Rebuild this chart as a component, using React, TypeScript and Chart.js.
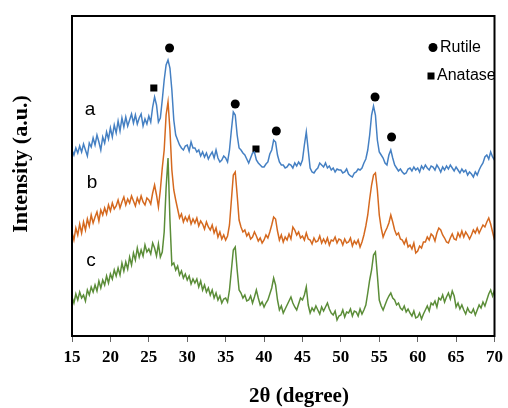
import { useEffect, useRef } from "react";
import { Chart, registerables } from "chart.js";

Chart.register(...registerables);

// 2θ sampling of the patterns (degrees)
const START_ANGLE = 15;
const ANGLE_STEP = 0.25;

// sample a (top, blue)
const seriesA = [
  186, 181, 188, 183, 190, 184, 192, 186, 180, 193, 189, 198, 191, 201, 194, 186,
  199, 193, 204, 197, 208, 199, 211, 203, 215, 205, 218, 209, 219, 210, 216, 222,
  213, 221, 212, 218, 222, 210, 217, 212, 220, 214, 229, 239, 231, 214, 218, 236,
  256, 271, 276, 268, 246, 216, 201, 196, 191, 188, 186, 190, 191, 185, 194, 188,
  188, 184, 186, 180, 184, 179, 183, 177, 181, 184, 178, 186, 178, 174, 176, 180,
  178, 174, 186, 206, 224, 221, 201, 188, 186, 183, 181, 177, 173, 178, 183, 184,
  176, 173, 171, 169, 169, 172, 174, 182, 186, 196, 194, 181, 174, 171, 171, 168,
  169, 172, 171, 168, 173, 170, 174, 171, 176, 191, 204, 186, 168, 164, 163, 166,
  168, 173, 171, 169, 173, 168, 170, 166, 168, 164, 167, 166, 166, 163, 164, 167,
  162, 160, 159, 163, 164, 167, 166, 168, 173, 177, 186, 201, 221, 230, 221, 196,
  184, 181, 178, 173, 171, 181, 186, 178, 171, 168, 165, 167, 164, 162, 163, 167,
  168, 165, 169, 166, 168, 164, 170, 167, 171, 168, 166, 170, 169, 166, 171, 168,
  164, 169, 166, 170, 167, 171, 168, 165, 169, 166, 163, 167, 164, 166, 161, 164,
  162, 159, 164, 161, 166, 170, 173, 179, 181, 177, 184, 179, 176,
];

// sample b (middle, orange)
const seriesB = [
  104, 96, 108, 101, 112, 103, 114, 106, 117, 110, 121, 113, 119, 124, 115, 126,
  121, 128, 122, 131, 125, 133, 127, 130, 136, 128, 134, 139, 131, 137, 133, 140,
  135, 130, 138, 133, 140, 134, 131, 138, 136, 132, 143, 151, 141, 129, 146, 168,
  186, 221, 234, 206, 166, 146, 136, 127, 118, 122, 114, 119, 115, 120, 112, 117,
  113, 118, 110, 115, 112, 107, 114, 109, 106, 111, 103, 108, 99, 104, 97, 101,
  96, 100, 111, 136, 161, 164, 141, 116, 109, 104, 106, 100, 103, 97, 99, 104,
  100, 95, 98, 93, 96, 101, 98, 104, 111, 119, 117, 105, 96, 101, 94, 99,
  96, 102, 97, 109, 106, 101, 104, 98, 100, 96, 103, 97, 96, 92, 98, 94,
  95, 100, 93, 97, 93, 98, 91, 96, 95, 99, 93, 97, 96, 91, 97, 93,
  94, 98, 90, 95, 92, 96, 89, 94, 101, 110, 121, 137, 151, 161, 163, 146,
  121, 108, 99, 104, 108, 113, 121, 114, 106, 101, 103, 97, 96, 92, 97, 89,
  91, 87, 93, 83, 85, 90, 88, 94, 94, 99, 96, 102, 100, 95, 103, 108,
  106, 101, 98, 94, 93, 98, 102, 97, 96, 103, 99, 105, 99, 104, 101, 97,
  101, 106, 103, 108, 103, 107, 111, 109, 114, 118, 112, 104, 96,
];

// sample c (bottom, green)
const seriesC = [
  39, 33, 42, 36, 44, 38, 41, 35, 46, 41, 49, 44, 51, 45, 55, 48,
  56, 51, 60, 53, 62, 57, 66, 60, 68, 61, 73, 65, 74, 67, 79, 71,
  83, 76, 88, 79, 86, 80, 91, 84, 87, 82, 93, 88, 80, 92, 79, 84,
  104, 148, 178, 116, 71, 73, 66, 70, 61, 65, 58, 62, 56, 60, 52, 57,
  53, 57, 49, 55, 46, 51, 44, 48, 41, 46, 38, 43, 36, 40, 33, 37,
  38, 34, 46, 66, 86, 89, 66, 46, 43, 38, 41, 35, 36, 40, 33, 39,
  46, 38, 31, 34, 29, 33, 36, 42, 48, 58, 51, 36, 26, 30, 23, 27,
  31, 35, 39, 33, 29, 26, 32, 38, 36, 41, 49, 31, 23, 28, 25, 30,
  26, 22, 29, 25, 29, 33, 27, 23, 21, 25, 16, 20, 21, 26, 19, 24,
  23, 27, 20, 25, 24, 20, 27, 22, 26, 31, 43, 56, 66, 81, 84, 61,
  36, 30, 26, 31, 36, 40, 43, 38, 36, 31, 33, 28, 26, 30, 24, 27,
  23, 20, 25, 18, 19, 23, 17, 22, 26, 30, 25, 33, 31, 35, 29, 38,
  36, 41, 34, 39, 43, 37, 45, 40, 29, 33, 27, 31, 26, 22, 28, 24,
  23, 27, 21, 26, 31, 28, 34, 30, 36, 42, 46, 40, 46,
];

const angles = seriesA.map((_, i) => START_ANGLE + i * ANGLE_STEP);

// peak markers
const rutileAngles = [27.7, 36.25, 41.6, 54.45, 56.6];
const rutileHeights = [288, 232, 205, 239, 199];
const anataseAngles = [25.65, 38.95];
const anataseHeights = [248, 187];

const sampleLabels = ["a", "b", "c"];
const legendLabels = ["Rutile", "Anatase"];
const xTitle = "2θ (degree)";
const yTitle = "Intensity (a.u.)";

const X_MIN = 15;
const X_MAX = 70;
const X_STEP = 5;
const Y_MIN = 0;
const Y_MAX = 320;

const toPoints = (xs: number[], ys: number[]) => xs.map((x, i) => ({ x, y: ys[i] }));

const decorPlugin = {
  id: "decor",
  afterDraw(chart: any) {
    const { ctx, chartArea: a } = chart;
    ctx.save();
    // frame
    ctx.strokeStyle = "#000";
    ctx.lineWidth = 2;
    ctx.strokeRect(a.left, a.top, a.right - a.left, a.bottom - a.top);

    // sample letters
    ctx.fillStyle = "#000";
    ctx.font = '19px "Liberation Sans", Arial, sans-serif';
    ctx.textAlign = "center";
    ctx.textBaseline = "middle";
    const labelPos = [
      [90, 110],
      [92, 183],
      [91, 261],
    ];
    sampleLabels.forEach((t, i) => ctx.fillText(t, labelPos[i][0], labelPos[i][1]));

    // legend
    ctx.beginPath();
    ctx.arc(433, 47.5, 4.5, 0, Math.PI * 2);
    ctx.fill();
    ctx.fillRect(427.5, 72.5, 7, 7);
    ctx.font = '16px "Liberation Sans", Arial, sans-serif';
    ctx.textAlign = "left";
    ctx.fillText(legendLabels[0], 440, 48);
    ctx.fillText(legendLabels[1], 437, 76);

    // axis titles
    ctx.font = 'bold 21px "Liberation Serif", "Times New Roman", serif';
    ctx.textAlign = "center";
    ctx.fillText(xTitle, 299, 397);
    ctx.font = 'bold 22px "Liberation Serif", "Times New Roman", serif';
    ctx.translate(21, 164);
    ctx.rotate(-Math.PI / 2);
    ctx.fillText(yTitle, 0, 0);
    ctx.restore();
  },
};

export default function App() {
  const ref = useRef<HTMLCanvasElement | null>(null);

  useEffect(() => {
    if (!ref.current) return;
    const line = (data: number[], color: string) => ({
      type: "line" as const,
      data: toPoints(angles, data),
      borderColor: color,
      borderWidth: 1.5,
      pointRadius: 0,
      fill: false,
      tension: 0,
    });
    const chart = new Chart(ref.current, {
      type: "line",
      data: {
        datasets: [
          line(seriesA, "#4580c3"),
          line(seriesB, "#d5691f"),
          line(seriesC, "#5b8d38"),
          {
            type: "scatter" as const,
            data: toPoints(rutileAngles, rutileHeights),
            pointStyle: "circle",
            pointRadius: 4.5,
            backgroundColor: "#000",
            borderColor: "#000",
            borderWidth: 0,
          } as any,
          {
            type: "scatter" as const,
            data: toPoints(anataseAngles, anataseHeights),
            pointStyle: "rect",
            pointRadius: 5,
            backgroundColor: "#000",
            borderColor: "#000",
            borderWidth: 0,
          } as any,
        ],
      },
      options: {
        responsive: false,
        animation: false,
        layout: { padding: { left: 72, right: 8, top: 16, bottom: 0 } },
        plugins: { legend: { display: false }, tooltip: { enabled: false } },
        scales: {
          x: {
            type: "linear",
            min: X_MIN,
            max: X_MAX,
            afterFit: (s: any) => {
              s.height = 72;
            },
            ticks: {
              stepSize: X_STEP,
              color: "#000",
              padding: 5,
              font: { family: '"Liberation Serif", "Times New Roman", serif', size: 17, weight: "bold" },
            },
            grid: {
              display: true,
              drawOnChartArea: false,
              drawTicks: true,
              tickLength: 6,
              color: "#666",
            },
            border: { display: true, color: "#000", width: 2 },
          },
          y: {
            type: "linear",
            display: false,
            min: Y_MIN,
            max: Y_MAX,
          },
        },
      },
      plugins: [decorPlugin],
    });
    return () => chart.destroy();
  }, []);

  return (
    <div style={{ position: "absolute", left: 0, top: 0, width: 508, height: 408, background: "#fff" }}>
      <canvas ref={ref} width={508} height={408} />
    </div>
  );
}
